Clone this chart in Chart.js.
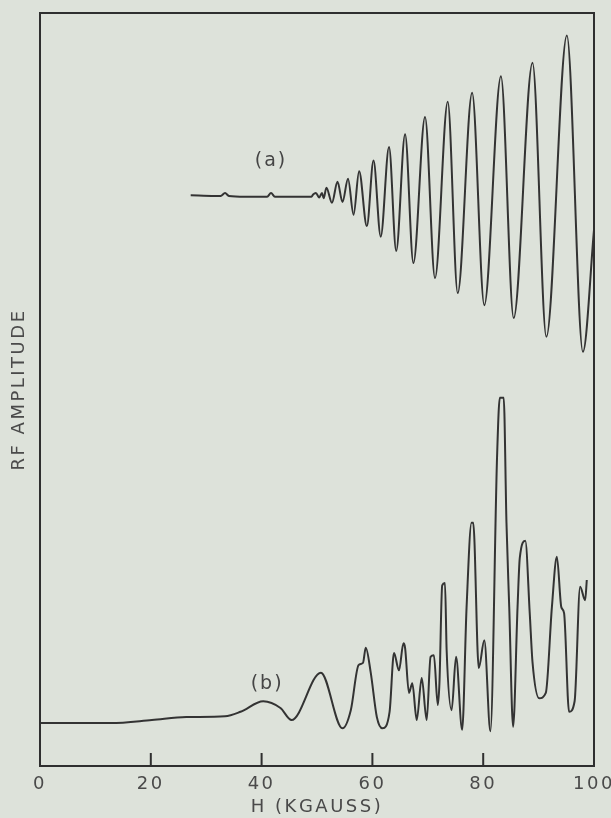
<!DOCTYPE html>
<html>
<head>
<meta charset="utf-8">
<title>RF amplitude vs H</title>
<script src="https://cdn.jsdelivr.net/npm/chart.js@4.4.1/dist/chart.umd.min.js"></script>
<style>
  html, body { margin: 0; padding: 0; background: #dde2da; }
  #chart { display: block; }
</style>
</head>
<body>
<canvas id="chart" width="611" height="818"></canvas>
<script>
// trace (a): field H in kG, RF amplitude in arbitrary units (0 = bottom of frame, 100 = top)
const fieldA = [27.2, 31.5, 32.6, 33.4, 34.1, 37.0, 41.0, 41.7, 42.4, 45.0,
  49.0, 49.3, 49.8, 50.4, 50.9, 51.2,
  51.7, 52.7, 53.7, 54.6, 55.6, 56.6, 57.6, 59.0,
  60.2, 61.5, 63.0, 64.3, 65.9, 67.4, 69.5, 71.3,
  73.6, 75.4, 78.0, 80.2, 83.2, 85.5, 88.9, 91.4,
  95.1, 98.0, 100];
const ampA = [75.8, 75.7, 75.7, 76.1, 75.7, 75.6, 75.6, 76.1, 75.6, 75.6,
  75.6, 75.9, 76.1, 75.5, 76.1, 75.4,
  76.8, 74.8, 77.6, 74.9, 78.0, 73.2, 79.0, 71.7,
  80.4, 70.3, 82.2, 68.4, 83.9, 66.8, 86.2, 64.8,
  88.2, 62.8, 89.4, 61.2, 91.6, 59.5, 93.4, 57.0,
  97.0, 55.0, 71.2];

// trace (b)
const fieldB = [0, 12.8, 20.2, 26.4, 33.4, 36.2, 40.3, 43.4, 45.4, 50.7,
  54.6, 56.1, 57.5, 58.3, 58.8, 59.7, 60.8, 61.8, 63.1, 63.9,
  64.8, 65.6, 65.9, 66.6, 67.2, 68.0, 68.9, 69.8, 70.5, 71.1,
  71.8, 72.1, 72.6, 73.1, 73.4, 74.3, 75.1, 76.2, 77.0, 77.9,
  78.2, 79.2, 80.2, 81.3, 82.5, 83.0, 83.7, 84.2, 84.7, 85.4,
  86.2, 86.6, 87.6, 88.4, 88.9, 90.1, 91.3, 92.4, 93.3, 94.1,
  94.6, 95.5, 96.5, 97.5, 98.4, 98.7];
const ampB = [5.7, 5.7, 6.1, 6.5, 6.6, 7.2, 8.6, 7.7, 6.1, 12.4,
  5.0, 7.4, 13.4, 13.7, 15.7, 12.4, 6.5, 5.0, 7.2, 15.0,
  12.7, 16.3, 15.7, 9.7, 11.0, 6.1, 11.7, 6.1, 14.5, 14.7,
  8.1, 11.0, 24.0, 24.3, 15.4, 7.4, 14.5, 4.8, 21.1, 32.3,
  32.3, 13.0, 16.7, 4.6, 41.0, 48.9, 48.9, 32.3, 21.1, 5.2,
  21.1, 27.6, 29.9, 20.3, 13.8, 9.0, 9.7, 21.1, 27.8, 21.1,
  20.3, 7.2, 8.6, 23.8, 22.0, 24.7];

const xTicks = [0, 20, 40, 60, 80, 100];
const traceNames = ['(a)', '(b)'];

const INK = '#333333';
const PAPER = '#dde2da';
const FONT = '"DejaVu Sans", sans-serif';

function toPoints(xs, ys) {
  const pts = [];
  for (let i = 0; i < xs.length; i++) {
    pts.push({ x: xs[i], y: ys[i] });
  }
  return pts;
}

// paper background, frame, inward ticks and the (a)/(b) tags
const paperPlugin = {
  id: 'paper',
  beforeDraw(chart) {
    const ctx = chart.ctx;
    ctx.save();
    ctx.fillStyle = PAPER;
    ctx.fillRect(0, 0, chart.width, chart.height);
    ctx.restore();
    ctx.letterSpacing = '2.5px';
  },
  afterDraw(chart, args, opts) {
    const { ctx, chartArea: a, scales: { x, y } } = chart;
    ctx.save();
    ctx.strokeStyle = '#2f2f2f';
    ctx.lineWidth = 2;
    ctx.strokeRect(a.left, a.top, a.right - a.left, a.bottom - a.top);
    x.ticks.forEach(t => {
      if (t.value === x.min || t.value === x.max) return;
      const px = x.getPixelForValue(t.value);
      ctx.beginPath();
      ctx.moveTo(px, a.bottom);
      ctx.lineTo(px, a.bottom - 13);
      ctx.stroke();
    });
    ctx.font = '19px ' + FONT;
    ctx.letterSpacing = '2px';
    ctx.fillStyle = '#454545';
    ctx.textAlign = 'center';
    ctx.textBaseline = 'middle';
    opts.tags.forEach((tag, i) => {
      ctx.fillText(traceNames[i], x.getPixelForValue(tag.x), y.getPixelForValue(tag.y));
    });
    ctx.restore();
  }
};

const config = {
  type: 'line',
  data: {
    datasets: [{
      label: traceNames[0],
      data: toPoints(fieldA, ampA),
      borderColor: INK,
      borderWidth: 2,
      pointRadius: 0,
      fill: false,
      cubicInterpolationMode: 'monotone'
    }, {
      label: traceNames[1],
      data: toPoints(fieldB, ampB),
      borderColor: INK,
      borderWidth: 2,
      pointRadius: 0,
      fill: false,
      cubicInterpolationMode: 'monotone'
    }]
  },
  options: {
    responsive: false,
    animation: false,
    devicePixelRatio: 1,
    layout: { padding: { top: 13, right: 17, left: 0, bottom: 0 } },
    plugins: {
      legend: { display: false },
      tooltip: { enabled: false },
      paper: { tags: [{ x: 41.7, y: 80.4 }, { x: 41.0, y: 10.9 }] }
    },
    scales: {
      x: {
        type: 'linear',
        min: 0,
        max: 100,
        afterBuildTicks: axis => { axis.ticks = xTicks.map(v => ({ value: v })); },
        afterFit: scale => { scale.height = 52; scale.paddingLeft = 0; scale.paddingRight = 0; },
        grid: { display: false },
        border: { display: false },
        ticks: { font: { family: FONT, size: 18 }, color: '#4a4a4a', padding: 0, maxRotation: 0 },
        title: {
          display: true,
          text: 'H (KGAUSS)',
          font: { family: FONT, size: 18 },
          color: '#4a4a4a',
          padding: { top: 0, bottom: 0 }
        }
      },
      y: {
        type: 'linear',
        min: 0,
        max: 100,
        afterFit: scale => { scale.width = 40; },
        grid: { display: false },
        border: { display: false },
        ticks: { display: false },
        title: {
          display: true,
          text: 'RF AMPLITUDE',
          font: { family: FONT, size: 18 },
          color: '#4a4a4a',
          padding: { top: 9, bottom: 0 }
        }
      }
    }
  },
  plugins: [paperPlugin]
};

window.addEventListener('load', () => {
  new Chart(document.getElementById('chart'), config);
});
</script>
</body>
</html>
